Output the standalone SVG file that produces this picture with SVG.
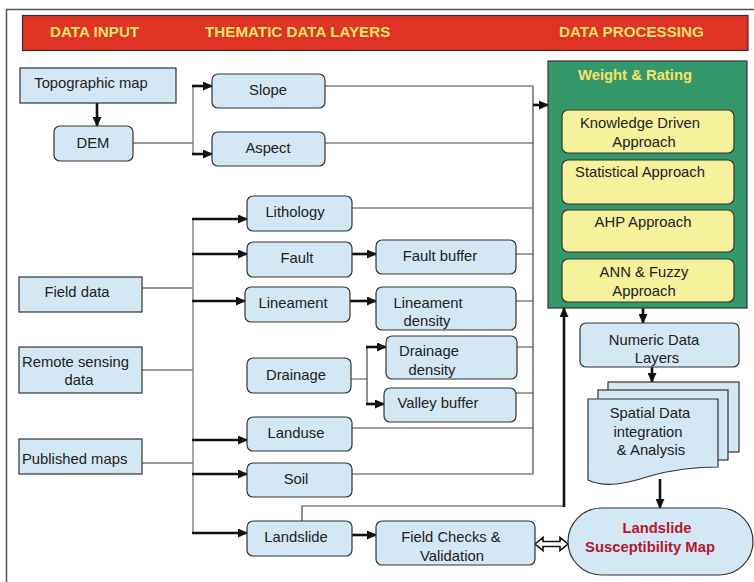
<svg xmlns="http://www.w3.org/2000/svg" width="754" height="582" viewBox="0 0 754 582">
  <defs>
    <marker id="arr" markerUnits="userSpaceOnUse" markerWidth="10" markerHeight="9" refX="9" refY="4.5" orient="auto">
      <path d="M0,0 L10,4.5 L0,9 Z" fill="#111"/>
    </marker>
    <style>
      text { font-family: "Liberation Sans", Arial, sans-serif; font-size: 14.8px; fill: #222; text-anchor: middle; }
      .l { text-anchor: start; }
      .hdr { font-weight: bold; fill: #F4E46A; text-anchor: start; }
      .ban { font-size: 15.2px; }
      .res { font-weight: bold; fill: #B2182B; }
      .box { fill: #D3E7F5; stroke: #333; stroke-width: 1.2; }
      .yb { fill: #F6F19B; stroke: #333; stroke-width: 1.2; }
      .thin { fill: none; stroke: #444; stroke-width: 1.2; }
      .gray { fill: none; stroke: #777; stroke-width: 1.3; }
      .thick { fill: none; stroke: #111; stroke-width: 2.6; marker-end: url(#arr); }
    </style>
  </defs>

  <rect width="754" height="582" fill="#fff"/>
  <!-- outer frame -->
  <path d="M6.5,582 V9.5 H754" fill="none" stroke="#555" stroke-width="1.5"/>

  <!-- section banner -->
  <g id="banner">
    <rect x="22.5" y="15.5" width="725.5" height="35" fill="#DF3325" stroke="#3a2a2a" stroke-width="1.2"/>
    <text class="hdr ban" x="50" y="37">DATA INPUT</text>
    <text class="hdr ban" x="205" y="37">THEMATIC DATA LAYERS</text>
    <text class="hdr ban" x="559" y="37">DATA PROCESSING</text>
  </g>

  <!-- connectors -->
  <g id="connectors">
    <path class="thick" d="M97,103 V126"/>
    <path class="gray" d="M133,143 H193 M193,86 V154"/>
    <path class="thick" d="M192,86 H212"/>
    <path class="thick" d="M192,154 H212"/>
    <path class="thin" d="M325,86 H533 M325,143 H533 M533,86 V474"/>
    <path class="thick" d="M533,105 H548"/>

    <path class="gray" d="M142,288 H193 M142,370 H193 M142,463 H193 M193,219 V533"/>
    <path class="thick" d="M192,219 H247"/>
    <path class="thick" d="M192,254 H247"/>
    <path class="thick" d="M192,301 H245"/>
    <path class="thick" d="M192,440 H247"/>
    <path class="thick" d="M192,474 H247"/>
    <path class="thick" d="M192,533 H247"/>

    <path class="thick" d="M352,254 H376"/>
    <path class="thick" d="M350,301 H376"/>
    <path class="gray" d="M351,379 H367"/>
    <path class="thin" d="M367,347 V404"/>
    <path class="thick" d="M366,347 H386"/>
    <path class="thick" d="M366,404 H384"/>

    <path class="thin" d="M352,208 H533 M516,254 H533 M516,301 H533 M517,347 H533 M516,393 H533 M352,428 H533 M352,474 H533"/>

    <path class="thin" d="M302,521 V506 H564"/>
    <path class="thick" d="M564,507 V308"/>
    <path class="thick" d="M352,535 H376"/>

    <polygon points="535,544 543,537.5 543,541.5 560,541.5 560,537.5 568,544 560,550.5 560,546.5 543,546.5 543,550.5" fill="#fff" stroke="#111" stroke-width="1.6"/>

    <path class="thick" d="M643,308 V323"/>
    <path class="thick" d="M652,367 V382"/>
    <path class="thick" d="M660,479 V508"/>
  </g>

  <!-- data input -->
  <g id="topo">
    <rect class="box" x="20" y="68" width="156" height="35"/>
    <text x="91" y="88">Topographic map</text>
  </g>
  <g id="dem">
    <rect class="box" x="54" y="126" width="79" height="35" rx="6"/>
    <text x="93" y="148">DEM</text>
  </g>
  <g id="field">
    <rect class="box" x="19" y="277" width="123" height="35"/>
    <text x="77" y="297">Field data</text>
  </g>
  <g id="remote">
    <rect class="box" x="19" y="347" width="123" height="46"/>
    <text class="l" x="22" y="367">Remote sensing</text>
    <text x="79" y="385">data</text>
  </g>
  <g id="published">
    <rect class="box" x="19" y="439" width="123" height="35"/>
    <text class="l" x="22" y="464">Published maps</text>
  </g>

  <!-- thematic layers -->
  <g id="slope">
    <rect class="box" x="212" y="74" width="113" height="34" rx="6"/>
    <text x="268" y="95">Slope</text>
  </g>
  <g id="aspect">
    <rect class="box" x="212" y="132" width="113" height="34" rx="6"/>
    <text x="268" y="153">Aspect</text>
  </g>
  <g id="lithology">
    <rect class="box" x="247" y="196" width="105" height="35" rx="6"/>
    <text x="295" y="217">Lithology</text>
  </g>
  <g id="fault">
    <rect class="box" x="247" y="242" width="105" height="35" rx="6"/>
    <text x="297" y="263">Fault</text>
  </g>
  <g id="lineament">
    <rect class="box" x="245" y="287" width="105" height="35" rx="6"/>
    <text x="293" y="308">Lineament</text>
  </g>
  <g id="drainage">
    <rect class="box" x="247" y="358" width="104" height="35" rx="6"/>
    <text x="296" y="380">Drainage</text>
  </g>
  <g id="landuse">
    <rect class="box" x="247" y="417" width="105" height="34" rx="6"/>
    <text x="296" y="438">Landuse</text>
  </g>
  <g id="soil">
    <rect class="box" x="247" y="463" width="105" height="34" rx="6"/>
    <text x="296" y="484">Soil</text>
  </g>
  <g id="landslide">
    <rect class="box" x="247" y="521" width="105" height="35" rx="6"/>
    <text x="296" y="542">Landslide</text>
  </g>
  <g id="faultbuffer">
    <rect class="box" x="376" y="240" width="140" height="34" rx="6"/>
    <text x="440" y="261">Fault buffer</text>
  </g>
  <g id="lineamentdensity">
    <rect class="box" x="376" y="287" width="140" height="43" rx="6"/>
    <text x="428" y="308">Lineament</text>
    <text x="427" y="326">density</text>
  </g>
  <g id="drainagedensity">
    <rect class="box" x="386" y="336" width="131" height="43" rx="6"/>
    <text x="429" y="356">Drainage</text>
    <text x="432" y="375">density</text>
  </g>
  <g id="valleybuffer">
    <rect class="box" x="384" y="388" width="132" height="34" rx="6"/>
    <text x="438" y="408">Valley buffer</text>
  </g>
  <g id="fieldchecks">
    <rect class="box" x="376" y="521" width="159" height="44" rx="6"/>
    <text x="451" y="542">Field Checks &amp;</text>
    <text x="452" y="561">Validation</text>
  </g>

  <!-- data processing -->
  <g id="weighting">
    <rect x="548" y="61" width="199" height="247" fill="#35986A" stroke="#333" stroke-width="1.2"/>
    <text class="hdr" x="578" y="80">Weight &amp; Rating</text>
  </g>
  <g id="knowledge">
    <rect class="yb" x="562" y="110" width="172" height="43" rx="6"/>
    <text x="640" y="128">Knowledge Driven</text>
    <text x="644" y="147">Approach</text>
  </g>
  <g id="statistical">
    <rect class="yb" x="562" y="160" width="172" height="44" rx="6"/>
    <text x="640" y="177">Statistical Approach</text>
  </g>
  <g id="ahp">
    <rect class="yb" x="562" y="210" width="172" height="42" rx="6"/>
    <text x="643" y="227">AHP Approach</text>
  </g>
  <g id="annfuzzy">
    <rect class="yb" x="562" y="259" width="172" height="43" rx="6"/>
    <text x="644" y="277">ANN &amp; Fuzzy</text>
    <text x="644" y="296">Approach</text>
  </g>
  <g id="numeric">
    <rect class="box" x="580" y="323" width="159" height="44" rx="6"/>
    <text x="654" y="345">Numeric Data</text>
    <text x="657" y="363">Layers</text>
  </g>
  <g id="spatial">
    <rect class="box" x="608" y="382" width="131" height="70"/>
    <rect class="box" x="598" y="390" width="130" height="70"/>
    <path class="box" d="M588,399 H718 V467 C700,467 675,469 650,476 C625,484 605,488 588,480 Z"/>
    <text x="650" y="418">Spatial Data</text>
    <text x="648" y="437">integration</text>
    <text x="651" y="455">&amp; Analysis</text>
  </g>
  <g id="susceptibility">
    <rect class="box" x="568" y="508" width="185" height="67" rx="33.5"/>
    <text class="res" x="657" y="533">Landslide</text>
    <text class="res" x="650" y="552">Susceptibility Map</text>
  </g>
</svg>
